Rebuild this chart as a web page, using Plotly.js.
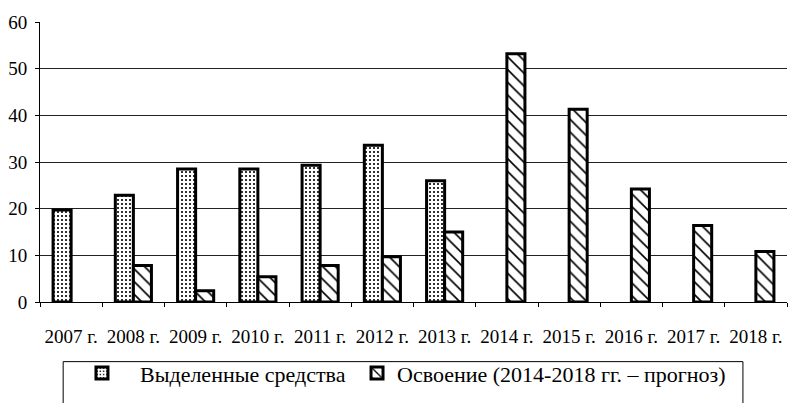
<!DOCTYPE html>
<html>
<head>
<meta charset="utf-8">
<script src="https://cdn.plot.ly/plotly-3.0.1.min.js"></script>
<style>html,body{margin:0;padding:0;background:#fff;}#chart{width:799px;height:403px;}</style>
</head>
<body>
<div id="chart"></div>
<script>
const categories = ['2007 г.','2008 г.','2009 г.','2010 г.','2011 г.','2012 г.','2013 г.','2014 г.','2015 г.','2016 г.','2017 г.','2018 г.'];
const allocated = [19.7, 22.9, 28.5, 28.5, 29.3, 33.6, 26.0, null, null, null, null, null];
const mastered  = [null, 7.8, 2.4, 5.4, 7.8, 9.7, 15.0, 53.2, 41.3, 24.2, 16.4, 10.8];
const seriesNames = ['Выделенные средства', 'Освоение (2014-2018 гг. – прогноз)'];
const yTicks = [0, 10, 20, 30, 40, 50, 60];

const font = 'Liberation Serif, Times New Roman, serif';

const traces = [
  {
    type: 'bar', name: seriesNames[0], x: categories, y: allocated, legend: 'legend',
    marker: {
      color: '#ffffff',
      line: {color: '#000', width: 3},
      pattern: {shape: '.', fillmode: 'replace', fgcolor: '#000', bgcolor: '#fff', size: 4, solidity: 0.22}
    }
  },
  {
    type: 'bar', name: seriesNames[1], x: categories, y: mastered, legend: 'legend2',
    marker: {
      color: '#ffffff',
      line: {color: '#000', width: 3},
      pattern: {shape: '\\', fillmode: 'replace', fgcolor: '#000', bgcolor: '#fff', size: 9, solidity: 0.18}
    }
  }
];

const legendBase = {
  orientation: 'h', xanchor: 'left', y: -0.179, yanchor: 'top',
  font: {family: font, size: 22, color: '#000'},
  bgcolor: 'rgba(0,0,0,0)', borderwidth: 0
};

const layout = {
  width: 799, height: 403,
  margin: {l: 40, r: 12, t: 22, b: 101, autoexpand: false},
  paper_bgcolor: '#fff', plot_bgcolor: '#fff',
  font: {family: font, color: '#000', size: 18},
  barmode: 'group', bargap: 0.42, bargroupgap: 0,
  showlegend: true,
  legend: Object.assign({}, legendBase, {x: 0.0321, itemwidth: 66}),
  legend2: Object.assign({}, legendBase, {x: 0.4244, itemwidth: 30}),
  xaxis: {
    type: 'category', showgrid: false, showline: true, linecolor: '#000', linewidth: 1,
    ticks: 'outside', tickson: 'boundaries', ticklen: 4, tickcolor: '#000',
    tickangle: 0,
    tickfont: {family: font, size: 19, color: '#000'}, ticklabelstandoff: 17,
    automargin: false, fixedrange: true
  },
  yaxis: {
    range: [0, 60], tickvals: yTicks, ticktext: yTicks.map(String),
    showgrid: true, gridcolor: '#222', gridwidth: 1, zeroline: false,
    showline: true, linecolor: '#000', linewidth: 1,
    ticks: 'outside', ticklen: 4, tickcolor: '#000',
    tickfont: {family: font, size: 19, color: '#000'}, ticklabelstandoff: 4,
    automargin: false, fixedrange: true
  },
  shapes: [
    {type: 'rect', xref: 'paper', yref: 'paper', x0: 0.031, x1: 0.941, y0: -0.5, y1: -0.213,
     line: {color: '#000', width: 1}, fillcolor: 'rgba(0,0,0,0)'}
  ]
};

Plotly.newPlot('chart', traces, layout, {displayModeBar: false, staticPlot: true});
</script>
</body>
</html>
